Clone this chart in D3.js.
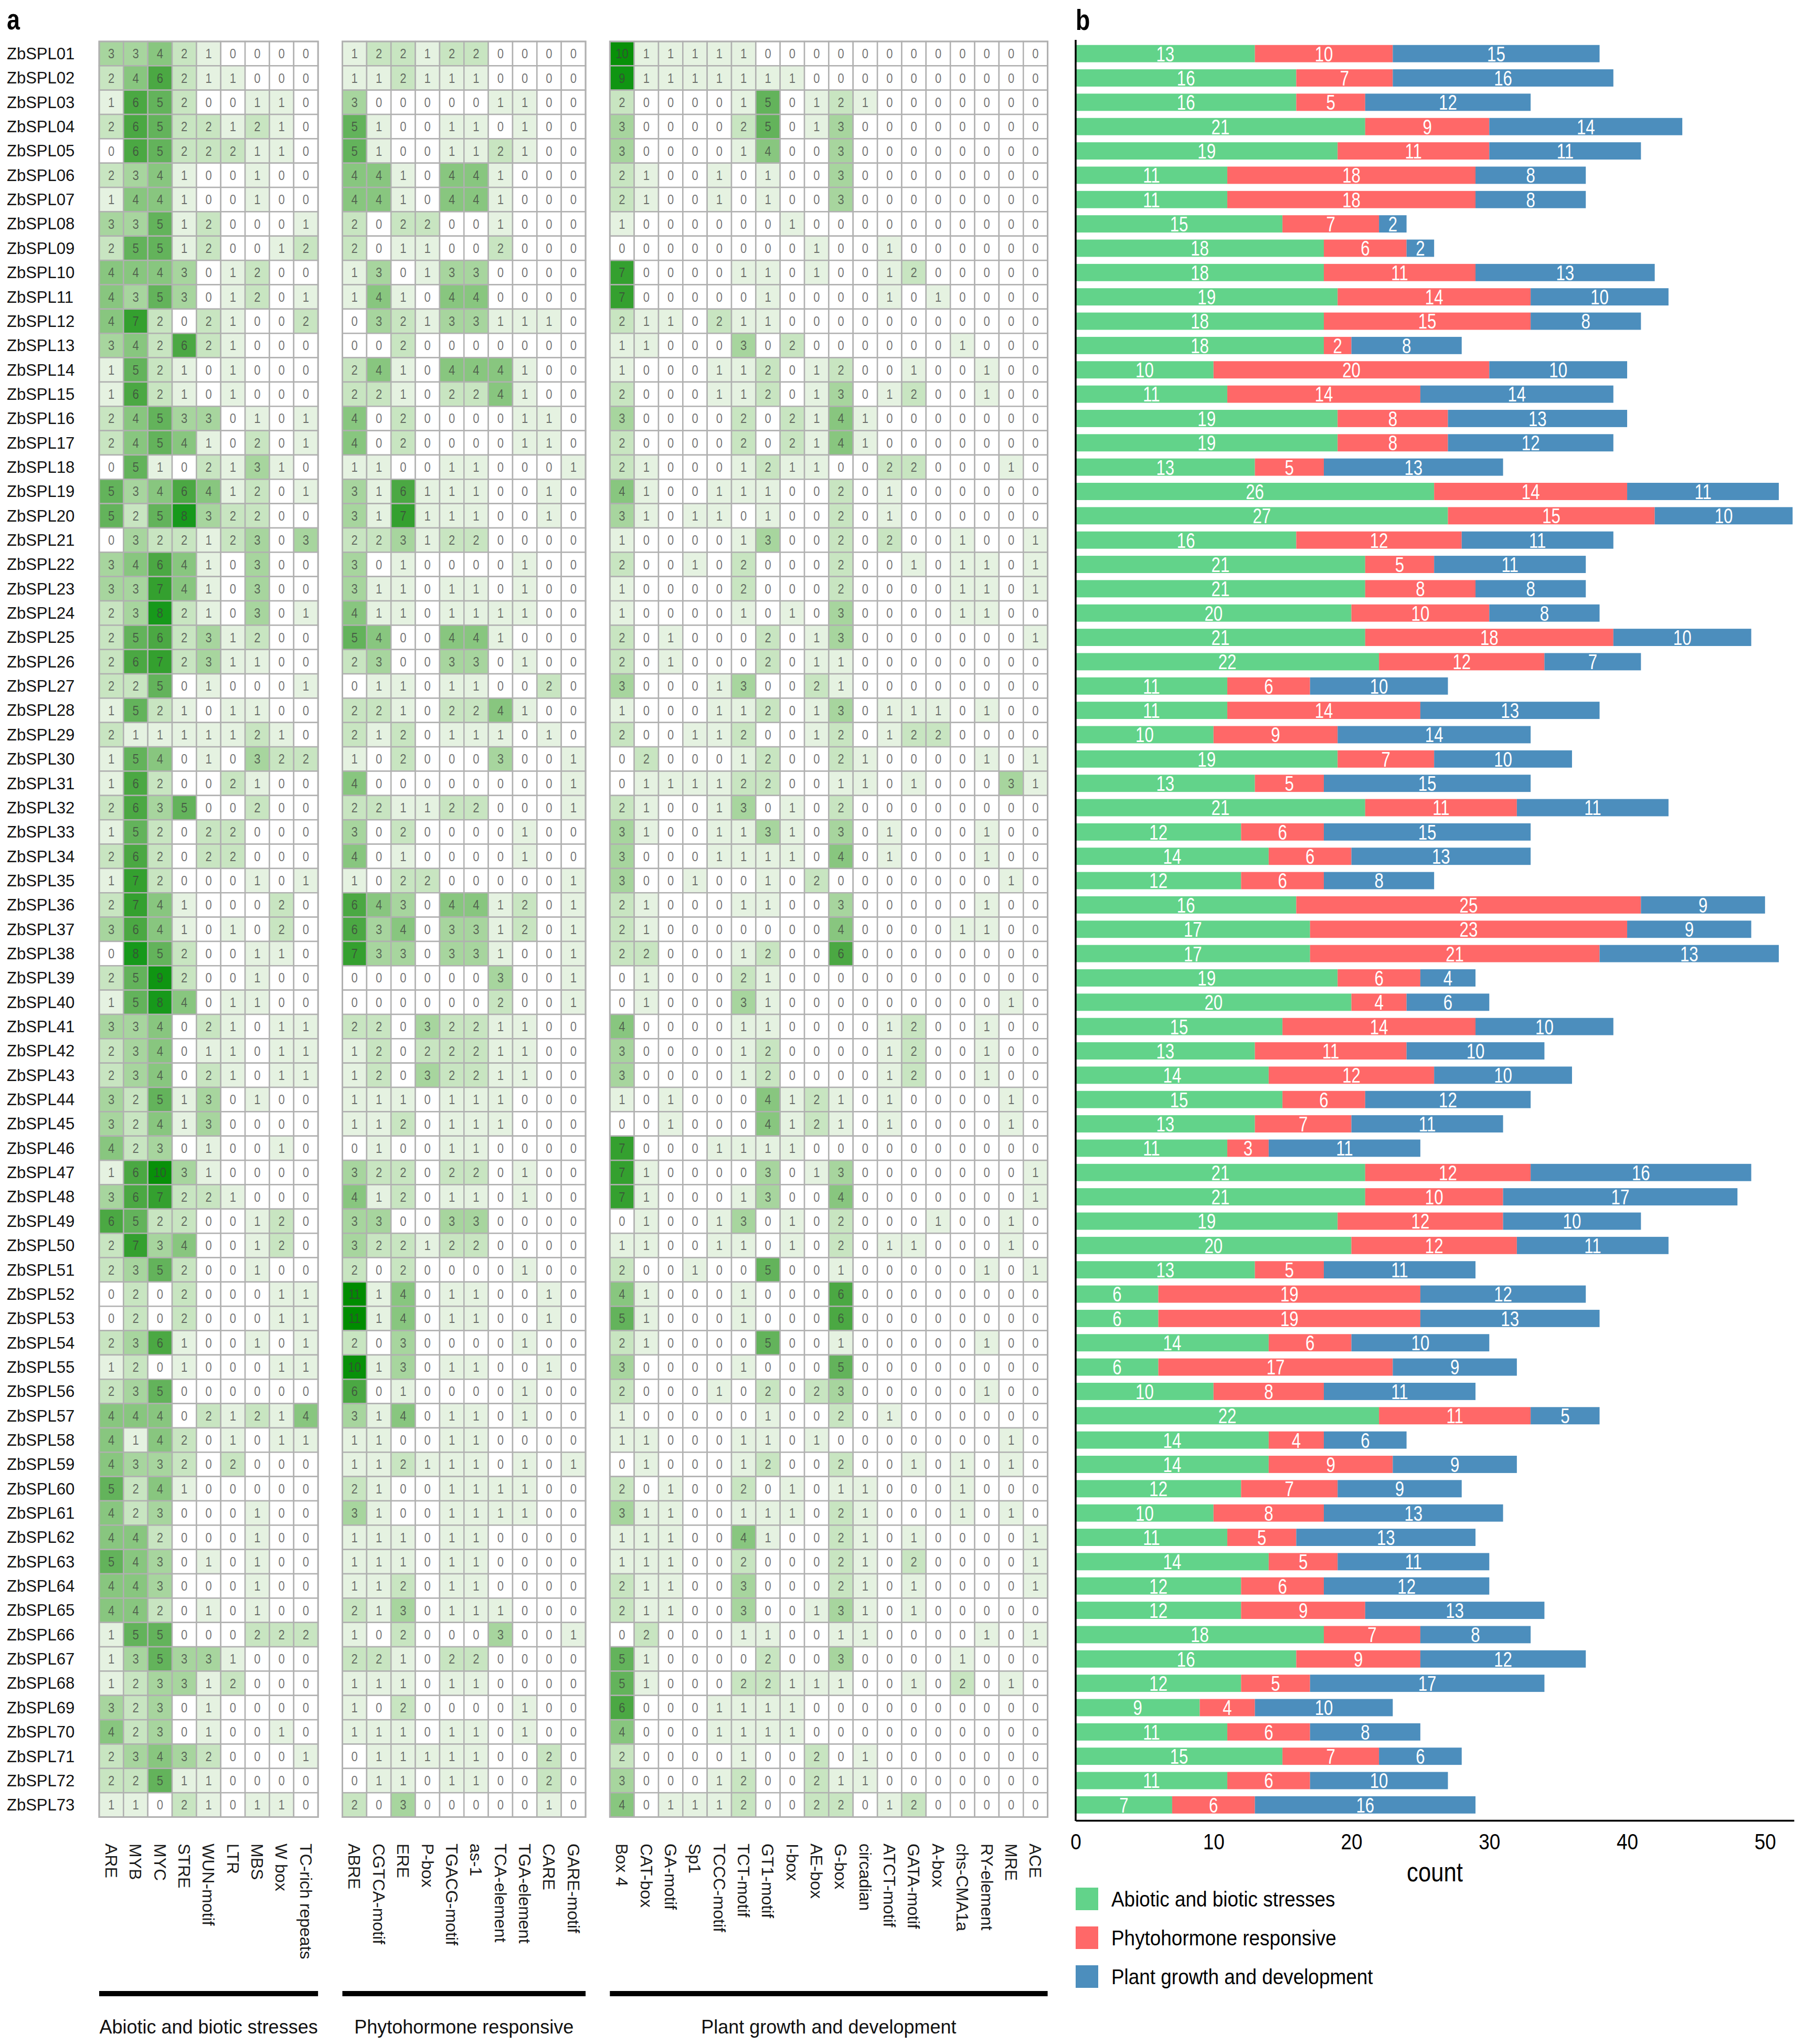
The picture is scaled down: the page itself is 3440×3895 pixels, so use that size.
<!DOCTYPE html>
<html>
<head>
<meta charset="utf-8">
<script src="https://cdn.jsdelivr.net/npm/d3@7"></script>
<style>
  body { margin: 0; background: #fff; }
  svg text { font-family: "Liberation Sans", Arial, sans-serif; }
</style>
</head>
<body>
<div id="chart"></div>
<script>
// ---------- data ----------
const genes = d3.range(1, 74).map(i => "ZbSPL" + String(i).padStart(2, "0"));

const abioticMotifs = ["ARE", "MYB", "MYC", "STRE", "WUN-motif", "LTR", "MBS", "W box", "TC-rich repeats"];
const hormoneMotifs = ["ABRE", "CGTCA-motif", "ERE", "P-box", "TGACG-motif", "as-1", "TCA-element", "TGA-element", "CARE", "GARE-motif"];
const growthMotifs = ["Box 4", "CAT-box", "GA-motif", "Sp1", "TCCC-motif", "TCT-motif", "GT1-motif", "I-box", "AE-box", "G-box",
  "circadian", "ATCT-motif", "GATA-motif", "A-box", "chs-CMA1a", "RY-element", "MRE", "ACE"];

const abioticCounts = [
  [3,3,4,2,1,0,0,0,0], [2,4,6,2,1,1,0,0,0], [1,6,5,2,0,0,1,1,0], [2,6,5,2,2,1,2,1,0], [0,6,5,2,2,2,1,1,0],
  [2,3,4,1,0,0,1,0,0], [1,4,4,1,0,0,1,0,0], [3,3,5,1,2,0,0,0,1], [2,5,5,1,2,0,0,1,2], [4,4,4,3,0,1,2,0,0],
  [4,3,5,3,0,1,2,0,1], [4,7,2,0,2,1,0,0,2], [3,4,2,6,2,1,0,0,0], [1,5,2,1,0,1,0,0,0], [1,6,2,1,0,1,0,0,0],
  [2,4,5,3,3,0,1,0,1], [2,4,5,4,1,0,2,0,1], [0,5,1,0,2,1,3,1,0], [5,3,4,6,4,1,2,0,1], [5,2,5,8,3,2,2,0,0],
  [0,3,2,2,1,2,3,0,3], [3,4,6,4,1,0,3,0,0], [3,3,7,4,1,0,3,0,0], [2,3,8,2,1,0,3,0,1], [2,5,6,2,3,1,2,0,0],
  [2,6,7,2,3,1,1,0,0], [2,2,5,0,1,0,0,0,1], [1,5,2,1,0,1,1,0,0], [2,1,1,1,1,1,2,1,0], [1,5,4,0,1,0,3,2,2],
  [1,6,2,0,0,2,1,0,0], [2,6,3,5,0,0,2,0,0], [1,5,2,0,2,2,0,0,0], [2,6,2,0,2,2,0,0,0], [1,7,2,0,0,0,1,0,1],
  [2,7,4,1,0,0,0,2,0], [3,6,4,1,0,1,0,2,0], [0,8,5,2,0,0,1,1,0], [2,5,9,2,0,0,1,0,0], [1,5,8,4,0,1,1,0,0],
  [3,3,4,0,2,1,0,1,1], [2,3,4,0,1,1,0,1,1], [2,3,4,0,2,1,0,1,1], [3,2,5,1,3,0,1,0,0], [3,2,4,1,3,0,0,0,0],
  [4,2,3,0,1,0,0,1,0], [1,6,10,3,1,0,0,0,0], [3,6,7,2,2,1,0,0,0], [6,5,2,2,0,0,1,2,0], [2,7,3,4,0,0,1,2,0],
  [2,3,5,2,0,0,1,0,0], [0,2,0,2,0,0,0,1,1], [0,2,0,2,0,0,0,1,1], [2,3,6,1,0,0,1,0,1], [1,2,0,1,0,0,0,1,1],
  [2,3,5,0,0,0,0,0,0], [4,4,4,0,2,1,2,1,4], [4,1,4,2,0,1,0,1,1], [4,3,3,2,0,2,0,0,0], [5,2,4,1,0,0,0,0,0],
  [4,2,3,0,0,0,1,0,0], [4,4,2,0,0,0,1,0,0], [5,4,3,0,1,0,1,0,0], [4,4,3,0,0,0,1,0,0], [4,4,2,0,1,0,1,0,0],
  [1,5,5,0,0,0,2,2,2], [1,3,5,3,3,1,0,0,0], [1,2,3,3,1,2,0,0,0], [3,2,3,0,1,0,0,0,0], [4,2,3,0,1,0,0,1,0],
  [2,3,4,3,2,0,0,0,1], [2,2,5,1,1,0,0,0,0], [1,1,0,2,1,0,1,1,0]
];

const hormoneCounts = [
  [1,2,2,1,2,2,0,0,0,0], [1,1,2,1,1,1,0,0,0,0], [3,0,0,0,0,0,1,1,0,0], [5,1,0,0,1,1,0,1,0,0], [5,1,0,0,1,1,2,1,0,0],
  [4,4,1,0,4,4,1,0,0,0], [4,4,1,0,4,4,1,0,0,0], [2,0,2,2,0,0,1,0,0,0], [2,0,1,1,0,0,2,0,0,0], [1,3,0,1,3,3,0,0,0,0],
  [1,4,1,0,4,4,0,0,0,0], [0,3,2,1,3,3,1,1,1,0], [0,0,2,0,0,0,0,0,0,0], [2,4,1,0,4,4,4,1,0,0], [2,2,1,0,2,2,4,1,0,0],
  [4,0,2,0,0,0,0,1,1,0], [4,0,2,0,0,0,0,1,1,0], [1,1,0,0,1,1,0,0,0,1], [3,1,6,1,1,1,0,0,1,0], [3,1,7,1,1,1,0,0,1,0],
  [2,2,3,1,2,2,0,0,0,0], [3,0,1,0,0,0,0,1,0,0], [3,1,1,0,1,1,0,1,0,0], [4,1,1,0,1,1,1,1,0,0], [5,4,0,0,4,4,1,0,0,0],
  [2,3,0,0,3,3,0,1,0,0], [0,1,1,0,1,1,0,0,2,0], [2,2,1,0,2,2,4,1,0,0], [2,1,2,0,1,1,1,0,1,0], [1,0,2,0,0,0,3,0,0,1],
  [4,0,0,0,0,0,0,0,0,1], [2,2,1,1,2,2,0,0,0,1], [3,0,2,0,0,0,0,1,0,0], [4,0,1,0,0,0,0,1,0,0], [1,0,2,2,0,0,0,0,0,1],
  [6,4,3,0,4,4,1,2,0,1], [6,3,4,0,3,3,1,2,0,1], [7,3,3,0,3,3,1,0,0,1], [0,0,0,0,0,0,3,0,0,1], [0,0,0,0,0,0,2,0,0,1],
  [2,2,0,3,2,2,1,1,0,0], [1,2,0,2,2,2,1,1,0,0], [1,2,0,3,2,2,1,1,0,0], [1,1,1,0,1,1,1,0,0,0], [1,1,2,0,1,1,1,0,0,0],
  [0,1,0,0,1,1,0,0,0,0], [3,2,2,0,2,2,0,1,0,0], [4,1,2,0,1,1,0,1,0,0], [3,3,0,0,3,3,0,0,0,0], [3,2,2,1,2,2,0,0,0,0],
  [2,0,2,0,0,0,0,1,0,0], [11,1,4,0,1,1,0,0,1,0], [11,1,4,0,1,1,0,0,1,0], [2,0,3,0,0,0,0,1,0,0], [10,1,3,0,1,1,0,0,1,0],
  [6,0,1,0,0,0,0,1,0,0], [3,1,4,0,1,1,0,1,0,0], [1,1,0,0,1,1,0,0,0,0], [1,1,2,1,1,1,0,1,0,1], [2,1,0,0,1,1,1,1,0,0],
  [3,1,0,0,1,1,1,1,0,0], [1,1,1,0,1,1,0,0,0,0], [1,1,1,0,1,1,0,0,0,0], [1,1,2,0,1,1,0,0,0,0], [2,1,3,0,1,1,1,0,0,0],
  [1,0,2,0,0,0,3,0,0,1], [2,2,1,0,2,2,0,0,0,0], [1,1,1,0,1,1,0,0,0,0], [1,0,2,0,0,0,0,1,0,0], [1,1,1,0,1,1,0,1,0,0],
  [0,1,1,1,1,1,0,0,2,0], [0,1,1,0,1,1,0,0,2,0], [2,0,3,0,0,0,0,0,1,0]
];

const growthCounts = [
  [10,1,1,1,1,1,0,0,0,0,0,0,0,0,0,0,0,0], [9,1,1,1,1,1,1,1,0,0,0,0,0,0,0,0,0,0],
  [2,0,0,0,0,1,5,0,1,2,1,0,0,0,0,0,0,0], [3,0,0,0,0,2,5,0,1,3,0,0,0,0,0,0,0,0],
  [3,0,0,0,0,1,4,0,0,3,0,0,0,0,0,0,0,0], [2,1,0,0,1,0,1,0,0,3,0,0,0,0,0,0,0,0],
  [2,1,0,0,1,0,1,0,0,3,0,0,0,0,0,0,0,0], [1,0,0,0,0,0,0,1,0,0,0,0,0,0,0,0,0,0],
  [0,0,0,0,0,0,0,0,1,0,0,1,0,0,0,0,0,0], [7,0,0,0,0,1,1,0,1,0,0,1,2,0,0,0,0,0],
  [7,0,0,0,0,0,1,0,0,0,0,1,0,1,0,0,0,0], [2,1,1,0,2,1,1,0,0,0,0,0,0,0,0,0,0,0],
  [1,1,0,0,0,3,0,2,0,0,0,0,0,0,1,0,0,0], [1,0,0,0,1,1,2,0,1,2,0,0,1,0,0,1,0,0],
  [2,0,0,0,1,1,2,0,1,3,0,1,2,0,0,1,0,0], [3,0,0,0,0,2,0,2,1,4,1,0,0,0,0,0,0,0],
  [2,0,0,0,0,2,0,2,1,4,1,0,0,0,0,0,0,0], [2,1,0,0,0,1,2,1,1,0,0,2,2,0,0,0,1,0],
  [4,1,0,0,1,1,1,0,0,2,0,1,0,0,0,0,0,0], [3,1,0,1,1,0,1,0,0,2,0,1,0,0,0,0,0,0],
  [1,0,0,0,0,1,3,0,0,2,0,2,0,0,1,0,0,1], [2,0,0,1,0,2,0,0,0,2,0,0,1,0,1,1,0,1],
  [1,0,0,0,0,2,0,0,0,2,0,0,0,0,1,1,0,1], [1,0,0,0,0,1,0,1,0,3,0,0,0,0,1,1,0,0],
  [2,0,1,0,0,0,2,0,1,3,0,0,0,0,0,0,0,1], [2,0,1,0,0,0,2,0,1,1,0,0,0,0,0,0,0,0],
  [3,0,0,0,1,3,0,0,2,1,0,0,0,0,0,0,0,0], [1,0,0,0,1,1,2,0,1,3,0,1,1,1,0,1,0,0],
  [2,0,0,1,1,2,0,0,1,2,0,1,2,2,0,0,0,0], [0,2,0,0,0,1,2,0,0,2,1,0,0,0,0,1,0,1],
  [0,1,1,1,1,2,2,0,0,1,1,0,1,0,0,0,3,1], [2,1,0,0,1,3,0,1,0,2,0,0,0,0,0,0,0,0],
  [3,1,0,0,1,1,3,1,0,3,0,1,0,0,0,1,0,0], [3,0,0,0,1,1,1,1,0,4,0,1,0,0,0,1,0,0],
  [3,0,0,1,0,0,1,0,2,0,0,0,0,0,0,0,1,0], [2,1,0,0,0,1,1,0,0,3,0,0,0,0,0,1,0,0],
  [2,1,0,0,0,0,0,0,0,4,0,0,0,0,1,1,0,0], [2,2,0,0,0,1,2,0,0,6,0,0,0,0,0,0,0,0],
  [0,1,0,0,0,2,1,0,0,0,0,0,0,0,0,0,0,0], [0,1,0,0,0,3,1,0,0,0,0,0,0,0,0,0,1,0],
  [4,0,0,0,0,1,1,0,0,0,0,1,2,0,0,1,0,0], [3,0,0,0,0,1,2,0,0,0,0,1,2,0,0,1,0,0],
  [3,0,0,0,0,1,2,0,0,0,0,1,2,0,0,1,0,0], [1,0,1,0,0,0,4,1,2,1,0,1,0,0,0,0,1,0],
  [0,0,1,0,0,0,4,1,2,1,0,1,0,0,0,0,1,0], [7,0,0,0,1,1,1,1,0,0,0,0,0,0,0,0,0,0],
  [7,1,0,0,0,0,3,0,1,3,0,0,0,0,0,0,0,1], [7,1,0,0,0,1,3,0,0,4,0,0,0,0,0,0,0,1],
  [0,1,0,0,1,3,0,1,0,2,0,0,0,1,0,0,1,0], [1,1,0,0,1,1,0,1,0,2,0,1,1,0,0,0,1,0],
  [2,0,0,1,0,0,5,0,0,1,0,0,0,0,0,1,0,1], [4,1,0,0,0,1,0,0,0,6,0,0,0,0,0,0,0,0],
  [5,1,0,0,0,1,0,0,0,6,0,0,0,0,0,0,0,0], [2,1,0,0,0,0,5,0,0,1,0,0,0,0,0,1,0,0],
  [3,0,0,0,0,1,0,0,0,5,0,0,0,0,0,0,0,0], [2,0,0,0,1,0,2,0,2,3,0,0,0,0,0,1,0,0],
  [1,0,0,0,0,0,1,0,0,2,0,1,0,0,0,0,0,0], [1,1,0,0,0,1,1,0,1,0,0,0,0,0,0,0,1,0],
  [0,1,0,0,0,1,2,0,0,2,0,0,1,0,1,0,1,0], [2,0,1,0,0,2,0,1,0,1,1,0,0,0,1,0,0,0],
  [3,1,1,0,0,1,1,1,0,2,1,0,0,0,1,0,1,0], [1,1,1,0,0,4,1,0,0,2,1,0,1,0,0,0,0,1],
  [1,1,1,0,0,2,0,0,0,2,1,0,2,0,0,0,0,1], [2,1,1,0,0,3,0,0,0,2,1,0,1,0,0,0,0,1],
  [2,1,1,0,0,3,0,0,1,3,1,0,1,0,0,0,0,0], [0,2,0,0,0,1,1,0,0,1,1,0,0,0,0,1,0,1],
  [5,1,0,0,0,0,2,0,0,3,0,0,0,0,1,0,0,0], [5,1,0,0,0,2,2,1,1,1,0,0,1,0,2,0,1,0],
  [6,0,0,0,1,1,1,1,0,0,0,0,0,0,0,0,0,0], [4,0,0,0,1,1,1,1,0,0,0,0,0,0,0,0,0,0],
  [2,0,0,0,0,1,0,0,2,0,1,0,0,0,0,0,0,0], [3,0,0,0,1,2,0,0,2,1,1,0,0,0,0,0,0,0],
  [4,0,1,1,1,2,0,0,2,2,0,1,2,0,0,0,0,0]
];

// bar counts as labelled in panel b
const barAbiotic = [13,16,16,21,19,11,11,15,18,18, 19,18,18,10,11,19,19,13,26,27, 16,21,21,20,21,22,11,11,10,19,
  13,21,12,14,12,16,17,17,19,20, 15,13,14,15,13,11,21,21,19,20, 13,6,6,14,6,10,22,14,14,12, 10,11,14,12,12,18,16,12,9,11, 15,11,7];
const barHormone = [10,7,5,9,11,18,18,7,6,11, 14,15,2,20,14,8,8,5,14,15, 12,5,8,10,18,12,6,14,9,7,
  5,11,6,6,6,25,23,21,6,4, 14,11,12,6,7,3,12,10,12,12, 5,19,19,6,17,8,11,4,9,7, 8,5,5,6,9,7,9,5,4,6, 7,6,6];
const barGrowth = [15,16,12,14,11,8,8,2,2,13, 10,8,8,10,14,13,12,13,11,10, 11,11,8,8,10,7,10,13,14,10,
  15,11,15,13,8,9,9,13,4,6, 10,10,10,12,11,11,16,17,10,11, 11,12,13,10,9,11,5,6,9,9, 13,13,11,12,13,8,12,17,10,8, 6,10,16];

const groupTitles = ["Abiotic and biotic stresses", "Phytohormone responsive", "Plant growth and development"];
const countTicks = [0, 10, 20, 30, 40, 50];

// ---------- layout ----------
const W = 3440, H = 3895;
const cell = 46.35;
const topY = 79;
const heatX = [189, 652.5, 1162.3];
const font = "Liberation Sans, Arial, sans-serif";

const svg = d3.select("#chart").append("svg")
  .attr("width", W).attr("height", H)
  .attr("viewBox", `0 0 ${W} ${H}`);

// panel letters
svg.append("text").attr("transform", "translate(13,56) scale(0.8,1)")
  .attr("font-size", 56).attr("font-weight", "bold").text("a");
svg.append("text").attr("transform", "translate(2050,57) scale(0.8,1)")
  .attr("font-size", 56).attr("font-weight", "bold").text("b");

/************************************
 * Panel a : heatmaps
 ************************************/
const yRow = d3.scaleBand().domain(genes).range([topY, topY + genes.length * cell]);

const heatColor = d3.scaleLinear()
  .domain([0, 1, 2, 3, 4, 5, 6, 7, 8, 11])
  .range(["#ffffff", "#e5f2e1", "#c8e5c1", "#a7d59e", "#88c67f", "#63b35b", "#4ba843", "#34a02f", "#17991b", "#008c00"])
  .clamp(true);

// row names
svg.append("g").selectAll("text")
  .data(genes).enter().append("text")
  .attr("x", 13)
  .attr("y", d => yRow(d) + yRow.bandwidth() / 2)
  .attr("dy", "0.35em")
  .attr("font-size", 31)
  .attr("fill", "#111")
  .text(d => d);

const groups = [
  { motifs: abioticMotifs, counts: abioticCounts },
  { motifs: hormoneMotifs, counts: hormoneCounts },
  { motifs: growthMotifs, counts: growthCounts }
];

groups.forEach((grp, gi) => {
  const xCol = d3.scaleBand().domain(grp.motifs)
    .range([heatX[gi], heatX[gi] + grp.motifs.length * cell]);
  const cells = [];
  genes.forEach((gene, r) => grp.motifs.forEach((m, c) => cells.push({ gene, motif: m, v: grp.counts[r][c] })));

  const g = svg.append("g");
  g.selectAll("rect.cell")
    .data(cells).enter().append("rect")
    .attr("class", "cell")
    .attr("x", d => xCol(d.motif))
    .attr("y", d => yRow(d.gene))
    .attr("width", xCol.bandwidth())
    .attr("height", yRow.bandwidth())
    .attr("fill", d => heatColor(d.v))
    .attr("stroke", "#b0b0b0")
    .attr("stroke-width", 2.5);

  g.selectAll("text.num")
    .data(cells).enter().append("text")
    .attr("class", "num")
    .attr("transform", d => `translate(${xCol(d.motif) + xCol.bandwidth() / 2},${yRow(d.gene) + yRow.bandwidth() / 2}) scale(0.88,1)`)
    .attr("text-anchor", "middle")
    .attr("dy", "0.36em")
    .attr("font-size", 25)
    .attr("fill", "#3d3d3d")
    .attr("fill-opacity", 0.72)
    .text(d => d.v);

  // outer frame
  const [x0, x1] = xCol.range();
  const [y0, y1] = yRow.range();
  g.append("rect")
    .attr("x", x0).attr("y", y0)
    .attr("width", x1 - x0).attr("height", y1 - y0)
    .attr("fill", "none").attr("stroke", "#b0b0b0").attr("stroke-width", 3);

  // motif names, reading downwards
  g.selectAll("text.motif")
    .data(grp.motifs).enter().append("text")
    .attr("class", "motif")
    .attr("transform", d => `translate(${xCol(d) + xCol.bandwidth() / 2},3513) rotate(90)`)
    .attr("dy", "0.35em")
    .attr("font-size", 32)
    .attr("fill", "#1a1a1a")
    .text(d => d);

  // group bar + title
  g.append("rect")
    .attr("x", x0).attr("y", 3794)
    .attr("width", x1 - x0).attr("height", 10)
    .attr("fill", "#000");
  g.append("text")
    .attr("x", (x0 + x1) / 2).attr("y", 3875)
    .attr("text-anchor", "middle")
    .attr("font-size", 36)
    .attr("fill", "#111")
    .text(groupTitles[gi]);
});

/************************************
 * Panel b : stacked bars
 ************************************/
const keys = ["abiotic", "hormone", "growth"];
const barColor = d3.scaleOrdinal().domain(keys).range(["#62d38a", "#ff6868", "#4c8ebd"]);

const table = genes.map((gene, i) => ({
  gene, abiotic: barAbiotic[i], hormone: barHormone[i], growth: barGrowth[i]
}));
const layers = d3.stack().keys(keys)(table);

const xCount = d3.scaleLinear().domain([0, 52.1]).range([2050, 3419]);
const yBar = d3.scaleBand().domain(genes)
  .range([topY, topY + genes.length * cell])
  .paddingInner(0.29).paddingOuter(0.145);

const layerG = svg.append("g").selectAll("g")
  .data(layers).enter().append("g")
  .attr("fill", d => barColor(d.key));

layerG.selectAll("rect")
  .data(d => d).enter().append("rect")
  .attr("x", d => xCount(d[0]))
  .attr("y", d => yBar(d.data.gene))
  .attr("width", d => xCount(d[1]) - xCount(d[0]))
  .attr("height", yBar.bandwidth());

layerG.selectAll("text")
  .data(d => d).enter().append("text")
  .attr("transform", d => `translate(${(xCount(d[0]) + xCount(d[1])) / 2},${yBar(d.data.gene) + yBar.bandwidth() / 2}) scale(0.78,1)`)
  .attr("text-anchor", "middle")
  .attr("dy", "0.36em")
  .attr("font-size", 40)
  .attr("fill", "#fff")
  .text(d => d[1] - d[0]);

// axes
const xAxis = svg.append("g")
  .attr("transform", "translate(0,3469)")
  .call(d3.axisBottom(xCount).tickValues(countTicks).tickSize(0).tickSizeOuter(0).tickPadding(24.5));
xAxis.select(".domain").attr("stroke", "#000").attr("stroke-width", 3.5);
xAxis.selectAll("text")
  .attr("font-family", font)
  .attr("font-size", 43)
  .attr("fill", "#000")
  .attr("transform", "scale(0.86,1)");

svg.append("line")
  .attr("x1", xCount(0)).attr("x2", xCount(0))
  .attr("y1", 76).attr("y2", 3470)
  .attr("stroke", "#000").attr("stroke-width", 3.5);

svg.append("text")
  .attr("transform", `translate(${(xCount.range()[0] + xCount.range()[1]) / 2},3585) scale(0.84,1)`)
  .attr("text-anchor", "middle")
  .attr("font-size", 52)
  .attr("fill", "#000")
  .text("count");

// legend
const legend = svg.append("g").selectAll("g")
  .data(keys).enter().append("g")
  .attr("transform", (d, i) => `translate(2050,${3597 + i * 74})`);
legend.append("rect")
  .attr("width", 43).attr("height", 43)
  .attr("fill", d => barColor(d));
legend.append("text")
  .attr("transform", "translate(68,21.5) scale(0.9,1)")
  .attr("dy", "0.36em")
  .attr("font-size", 41)
  .attr("fill", "#000")
  .text((d, i) => groupTitles[i]);
</script>
</body>
</html>
